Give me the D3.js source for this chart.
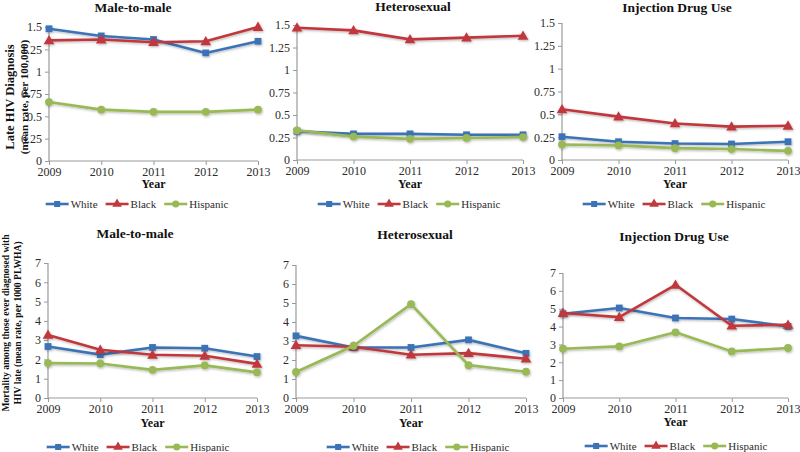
<!DOCTYPE html>
<html>
<head>
<meta charset="utf-8">
<script src="https://cdnjs.cloudflare.com/ajax/libs/d3/7.8.5/d3.min.js"></script>
<style>
  html, body { margin: 0; padding: 0; background: #fff; }
  svg { display: block; }
  svg text { font-family: "Liberation Serif", "Times New Roman", serif !important; }
</style>
</head>
<body>
<svg id="chart" width="800" height="452"></svg>
<script>
// ---------- data ----------
const years = [2009, 2010, 2011, 2012, 2013];
const races = ["White", "Black", "Hispanic"];
const lateTicks = [0, 0.25, 0.5, 0.75, 1, 1.25, 1.5];
const mortTicks = [0, 1, 2, 3, 4, 5, 6, 7];
const panelTitles = ["Male-to-male", "Heterosexual", "Injection Drug Use"];

const lateMsmWhite    = [1.48, 1.40, 1.36, 1.21, 1.34];
const lateMsmBlack    = [1.35, 1.36, 1.33, 1.34, 1.50];
const lateMsmHispanic = [0.66, 0.575, 0.55, 0.55, 0.575];
const lateHetWhite    = [0.32, 0.29, 0.29, 0.28, 0.28];
const lateHetBlack    = [1.47, 1.44, 1.34, 1.36, 1.38];
const lateHetHispanic = [0.33, 0.26, 0.235, 0.245, 0.255];
const lateIduWhite    = [0.255, 0.20, 0.18, 0.175, 0.20];
const lateIduBlack    = [0.555, 0.475, 0.40, 0.365, 0.375];
const lateIduHispanic = [0.17, 0.16, 0.13, 0.12, 0.10];

const mortMsmWhite    = [2.67, 2.25, 2.62, 2.58, 2.15];
const mortMsmBlack    = [3.27, 2.50, 2.24, 2.19, 1.77];
const mortMsmHispanic = [1.81, 1.79, 1.46, 1.69, 1.33];
const mortHetWhite    = [3.27, 2.66, 2.66, 3.06, 2.35];
const mortHetBlack    = [2.78, 2.70, 2.28, 2.36, 2.07];
const mortHetHispanic = [1.37, 2.75, 4.94, 1.73, 1.38];
const mortIduWhite    = [4.72, 5.04, 4.48, 4.42, 4.01];
const mortIduBlack    = [4.76, 4.53, 6.34, 4.05, 4.10];
const mortIduHispanic = [2.76, 2.89, 3.68, 2.61, 2.80];

const lateYLabel = ["Late HIV Diagnosis", "(mean rate, per 100,000)"];
const mortYLabel = ["Mortality among those ever diagnosed with", "HIV late (mean rate, per 1000  PLWHA)"];

// ---------- styles ----------
const colors = { White: "#3B73B6", Black: "#C0393D", Hispanic: "#98B954" };
const symbols = { White: d3.symbolSquare, Black: d3.symbolTriangle, Hispanic: d3.symbolCircle };
const symSize = { White: 46, Black: 50, Hispanic: 48 };

// ---------- layout ----------
const panels = [
  { title: panelTitles[0], series: [lateMsmWhite, lateMsmBlack, lateMsmHispanic], ticks: lateTicks, max: 1.5,
    x0: 49, x1: 258, yTop: 27, yBot: 161, titleX: 133, titleY: 12, tickY: 176, yearY: 188, legY: 204, legCx: 137 },
  { title: panelTitles[1], series: [lateHetWhite, lateHetBlack, lateHetHispanic], ticks: lateTicks, max: 1.5,
    x0: 297, x1: 523, yTop: 25, yBot: 160, titleX: 413, titleY: 11, tickY: 175, yearY: 188, legY: 204, legCx: 409 },
  { title: panelTitles[2], series: [lateIduWhite, lateIduBlack, lateIduHispanic], ticks: lateTicks, max: 1.5,
    x0: 562, x1: 788, yTop: 23, yBot: 160, titleX: 677, titleY: 12, tickY: 175, yearY: 188, legY: 204, legCx: 674 },
  { title: panelTitles[0], series: [mortMsmWhite, mortMsmBlack, mortMsmHispanic], ticks: mortTicks, max: 7,
    x0: 48, x1: 257, yTop: 263, yBot: 398, titleX: 135, titleY: 238, tickY: 413, yearY: 427, legY: 447, legCx: 138 },
  { title: panelTitles[1], series: [mortHetWhite, mortHetBlack, mortHetHispanic], ticks: mortTicks, max: 7,
    x0: 296, x1: 526, yTop: 265, yBot: 398, titleX: 415, titleY: 239, tickY: 413, yearY: 427, legY: 447, legCx: 418 },
  { title: panelTitles[2], series: [mortIduWhite, mortIduBlack, mortIduHispanic], ticks: mortTicks, max: 7,
    x0: 563, x1: 788, yTop: 273, yBot: 398, titleX: 674, titleY: 241, tickY: 413, yearY: 426, legY: 446, legCx: 676 }
];

const svg = d3.select("#chart");
const defs = svg.append("defs");
const f = defs.append("filter").attr("id", "sh").attr("x", "-50%").attr("y", "-50%").attr("width", "200%").attr("height", "200%");
f.append("feDropShadow").attr("dx", 0.8).attr("dy", 1.2).attr("stdDeviation", 1.1)
  .attr("flood-color", "#000").attr("flood-opacity", 0.28);

const axisColor = "#9a9a9a";
const textColor = "#2b2b2b";

panels.forEach(p => {
  const g = svg.append("g");
  const x = d3.scalePoint().domain(years).range([p.x0, p.x1]);
  const y = d3.scaleLinear().domain([0, p.max]).range([p.yBot, p.yTop]);

  // y axis
  const ya = g.append("g").attr("transform", `translate(${p.x0},0)`)
    .call(d3.axisLeft(y).tickValues(p.ticks).tickSize(4).tickPadding(3)
      .tickFormat(d => String(+d.toFixed(2))));
  // x axis
  const xa = g.append("g").attr("transform", `translate(0,${p.yBot})`)
    .call(d3.axisBottom(x).tickSize(4).tickPadding(4).tickFormat(d => String(d)));
  [ya, xa].forEach(a => {
    a.attr("font-family", null);
    a.select(".domain").attr("stroke", axisColor).attr("stroke-width", 1.2);
    a.selectAll(".tick line").attr("stroke", axisColor).attr("stroke-width", 1);
    a.selectAll(".tick text").attr("fill", textColor).attr("font-size", 12);
  });
  ya.select(".domain").attr("d", `M0,${p.yTop}V${p.yBot}`);
  xa.select(".domain").attr("d", `M${p.x0},0H${p.x1}`);
  xa.selectAll(".tick text").attr("y", p.tickY - p.yBot).attr("dy", 0);

  // title
  g.append("text").attr("x", p.titleX).attr("y", p.titleY).attr("text-anchor", "middle")
    .attr("font-weight", "bold").attr("font-size", 13.5).attr("fill", "#111").text(p.title);
  // x title
  g.append("text").attr("x", (p.x0 + p.x1) / 2).attr("y", p.yearY).attr("text-anchor", "middle")
    .attr("font-weight", "bold").attr("font-size", 12).attr("fill", "#111").text("Year");

  // series
  const line = d3.line().x((d, i) => x(years[i])).y(d => y(d));
  races.forEach((r, k) => {
    const vals = p.series[k];
    const sg = g.append("g").attr("filter", "url(#sh)");
    sg.append("path").datum(vals).attr("d", line).attr("fill", "none")
      .attr("stroke", colors[r]).attr("stroke-width", 2.6).attr("stroke-linejoin", "round");
    sg.selectAll("path.m").data(vals).enter().append("path").attr("class", "m")
      .attr("transform", (d, i) => `translate(${x(years[i])},${y(d) + (r === "Black" ? 0.8 : 0)})`)
      .attr("d", d3.symbol().type(symbols[r]).size(symSize[r])())
      .attr("fill", colors[r]);
  });

  // legend
  const lg = g.append("g").attr("transform", `translate(0,${p.legY})`);
  const items = [];
  races.forEach(r => {
    const it = lg.append("g");
    it.append("line").attr("x1", 0).attr("x2", 23).attr("y1", 0).attr("y2", 0)
      .attr("stroke", colors[r]).attr("stroke-width", 2.6);
    it.append("path").attr("transform", "translate(11.5,0)")
      .attr("d", d3.symbol().type(symbols[r]).size(symSize[r] * 0.8)()).attr("fill", colors[r]);
    const t = it.append("text").attr("x", 25).attr("y", 3.8).attr("font-size", 11)
      .attr("fill", textColor).text(r);
    const w = 25 + t.node().getComputedTextLength();
    items.push({ it, w });
  });
  const gap = 8;
  const total = d3.sum(items, d => d.w) + gap * (items.length - 1);
  let cx = p.legCx - total / 2;
  items.forEach(d => { d.it.attr("transform", `translate(${cx},0)`); cx += d.w + gap; });
});

// y-axis titles (left side)
function yTitle(lines, cy, xs, sizes) {
  lines.forEach((t, i) => {
    svg.append("text").attr("transform", `translate(${xs[i]},${cy}) rotate(-90)`)
      .attr("text-anchor", "middle").attr("font-weight", "bold").attr("font-size", sizes[i])
      .attr("fill", "#111").text(t);
  });
}
yTitle(lateYLabel, 97, [14, 28], [12.5, 11]);
yTitle(mortYLabel, 323, [9, 21], [9.6, 9.6]);
</script>
</body>
</html>
